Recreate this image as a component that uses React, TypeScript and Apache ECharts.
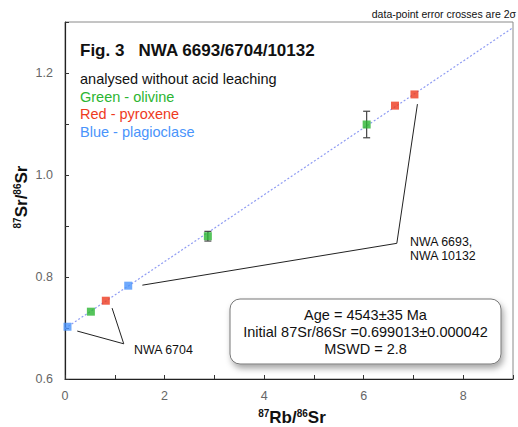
import React, { useEffect, useRef } from "react";
import * as echarts from "echarts";

// Data
const olivine: number[][] = [[0.52, 0.732], [2.87, 0.880], [6.06, 1.099]];
const pyroxene: number[][] = [[0.82, 0.7535], [6.63, 1.136], [7.02, 1.158]];
const plagioclase: number[][] = [[0.05, 0.7025], [1.27, 0.783]];
const errorBars: number[][] = [[2.87, 0.880, 0.0095], [6.06, 1.099, 0.026]];
const isochron: number[][] = [[0, 0.699], [9, 1.289]];
const leader6704: number[][] = [[0.246, 0.694], [1.18, 0.669], [0.946, 0.739]];
const leader6693: number[][] = [[1.554, 0.784], [6.666, 0.866], [7.08, 1.139]];

const xRange = [0, 9];
const yRange = [0.6, 1.3];

const FONT = "'Liberation Sans', Arial, Helvetica, sans-serif";
const GREEN = "#2bb532";
const RED = "#ee3a1e";
const BLUE = "#4a94fb";

export default function App() {
  const ref = useRef<HTMLDivElement>(null);
  useEffect(() => {
    if (!ref.current) return;
    const chart = echarts.init(ref.current, null, { renderer: "svg" });
    const txt = (x: number, y: number, text: string, size: number, color: string, extra: any = {}) => ({
      type: "text",
      x,
      y,
      z: 100,
      style: {
        text,
        fill: color,
        fontSize: size,
        fontFamily: FONT,
        align: "left",
        verticalAlign: "middle",
        ...extra,
      },
    });
    const supRich = {
      sup: { fontSize: 10, fontWeight: "bold", fontFamily: FONT, fill: "#111", verticalAlign: "top", lineHeight: 10 },
      b: { fontSize: 17, fontWeight: "bold", fontFamily: FONT, fill: "#111", lineHeight: 17 },
    };
    chart.setOption({
      animation: false,
      backgroundColor: "#ffffff",
      grid: {
        left: 65,
        right: 5,
        top: 22,
        bottom: 48,
        show: true,
        borderColor: "#8a8a8a",
        borderWidth: 1,
        backgroundColor: "transparent",
      },
      xAxis: {
        type: "value",
        min: xRange[0],
        max: xRange[1],
        interval: 1,
        axisLine: { show: true, onZero: false, lineStyle: { color: "#222", width: 1.2 } },
        axisTick: { show: true, inside: true, length: 4, lineStyle: { color: "#333" } },
        axisLabel: {
          color: "#666",
          fontSize: 12.5,
          fontFamily: FONT,
          margin: 10,
          formatter: (v: number) => (Math.round(v) % 2 === 0 ? String(v) : ""),
        },
        splitLine: { show: false },
      },
      yAxis: {
        type: "value",
        min: yRange[0],
        max: yRange[1],
        interval: 0.1,
        axisLine: { show: true, onZero: false, lineStyle: { color: "#222", width: 1.2 } },
        axisTick: { show: true, inside: true, length: 4, lineStyle: { color: "#333" } },
        axisLabel: {
          color: "#666",
          fontSize: 12.5,
          fontFamily: FONT,
          margin: 12,
          formatter: (v: number) => (Math.round(v * 10) % 2 === 0 ? v.toFixed(1) : ""),
        },
        splitLine: { show: false },
      },
      series: [
        {
          type: "line",
          data: isochron,
          symbol: "none",
          lineStyle: { color: "#8f9cf3", width: 1.2, type: [2, 2] },
          z: 1,
        },
        {
          type: "line",
          data: leader6704,
          symbol: "none",
          lineStyle: { color: "#222", width: 1 },
          z: 1,
        },
        {
          type: "line",
          data: leader6693,
          symbol: "none",
          lineStyle: { color: "#222", width: 1 },
          z: 1,
        },
        {
          type: "custom",
          data: errorBars,
          encode: { x: 0, y: 1 },
          z: 2,
          renderItem: (params: any, api: any) => {
            const x = api.value(0);
            const y = api.value(1);
            const e = api.value(2);
            const top = api.coord([x, y + e]);
            const bot = api.coord([x, y - e]);
            const w = 3.5;
            const st = { stroke: "#444", lineWidth: 1.2 };
            return {
              type: "group",
              children: [
                { type: "line", shape: { x1: top[0], y1: top[1], x2: bot[0], y2: bot[1] }, style: st },
                { type: "line", shape: { x1: top[0] - w, y1: top[1], x2: top[0] + w, y2: top[1] }, style: st },
                { type: "line", shape: { x1: bot[0] - w, y1: bot[1], x2: bot[0] + w, y2: bot[1] }, style: st },
              ],
            };
          },
        },
        { type: "scatter", data: olivine, symbol: "rect", symbolSize: 8, itemStyle: { color: GREEN }, z: 3 },
        { type: "scatter", data: pyroxene, symbol: "rect", symbolSize: 8, itemStyle: { color: RED }, z: 3 },
        { type: "scatter", data: plagioclase, symbol: "rect", symbolSize: 8, itemStyle: { color: BLUE }, z: 3 },
      ],
      graphic: [
        txt(516, 14, "data-point error crosses are 2σ", 10.5, "#111", { align: "right" }),
        txt(80, 50, "Fig. 3   NWA 6693/6704/10132", 17, "#111", { fontWeight: "bold" }),
        txt(80, 79, "analysed without acid leaching", 14.5, "#111"),
        txt(80, 96.5, "Green - olivine", 14.5, GREEN),
        txt(80, 114, "Red - pyroxene", 14.5, RED),
        txt(80, 131.5, "Blue - plagioclase", 14.5, BLUE),
        txt(134, 349.5, "NWA 6704", 12.4, "#111"),
        txt(410, 241.5, "NWA 6693,", 12.4, "#111"),
        txt(410, 255.5, "NWA 10132", 12.4, "#111"),
        {
          type: "rect",
          z: 90,
          shape: { x: 230, y: 299, width: 271, height: 65, r: 10 },
          style: {
            fill: "#fff",
            stroke: "#777",
            lineWidth: 1,
            shadowBlur: 6,
            shadowOffsetX: 2,
            shadowOffsetY: 4,
            shadowColor: "rgba(0,0,0,0.35)",
          },
        },
        txt(365.5, 314.5, "Age = 4543±35 Ma", 14.5, "#111", { align: "center" }),
        txt(365.5, 331.5, "Initial 87Sr/86Sr =0.699013±0.000042", 14.5, "#111", { align: "center" }),
        txt(365.5, 348.5, "MSWD = 2.8", 14.5, "#111", { align: "center" }),
        {
          type: "text",
          x: 292,
          y: 417,
          z: 100,
          style: {
            text: "{sup|87}{b|Rb/}{sup|86}{b|Sr}",
            rich: supRich,
            align: "center",
            verticalAlign: "middle",
          },
        },
        {
          type: "text",
          x: 21,
          y: 197,
          rotation: Math.PI / 2,
          z: 100,
          style: {
            text: "{sup|87}{b|Sr/}{sup|86}{b|Sr}",
            rich: supRich,
            align: "center",
            verticalAlign: "middle",
          },
        },
      ],
    });
    return () => chart.dispose();
  }, []);
  return (
    <div
      ref={ref}
      style={{ position: "fixed", left: 0, top: 0, width: 518, height: 427, background: "#fff" }}
    />
  );
}
